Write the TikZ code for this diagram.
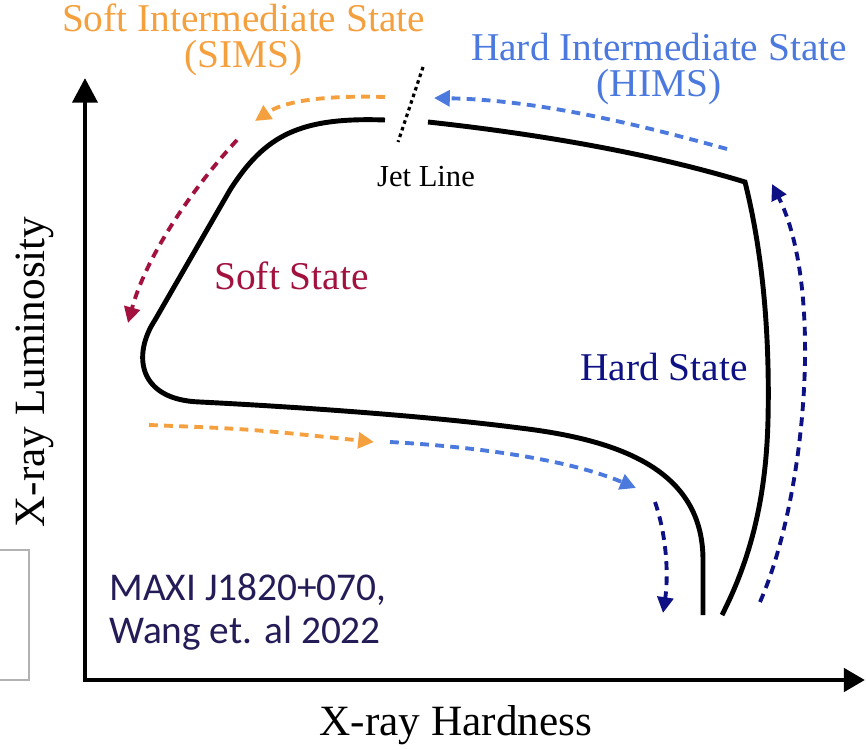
\documentclass[tikz,border=0pt]{standalone}
\usepackage{fontspec}
\setmainfont{Liberation Serif}
\newfontfamily\timesfont{Liberation Serif}
\newfontfamily\maxifont{Carlito}
\usepackage{tikz}
\usetikzlibrary{positioning}
\usetikzlibrary{calc,arrows.meta}
\definecolor{simsorange}{HTML}{F5A03E}
\definecolor{himsblue}{HTML}{4C79DD}
\definecolor{softred}{HTML}{A3123F}
\definecolor{hardnavy}{HTML}{0E1183}
\definecolor{maxiink}{HTML}{231C57}
\tikzset{
	semithick,
	lab/.style = {inner sep=0pt, anchor=base, align=center,
		font=\timesfont\fontsize{22.4}{20.7}\selectfont},
	axislab/.style = {inner sep=0pt, anchor=base, font=\timesfont\fontsize{24.6}{28}\selectfont},
	maxilab/.style = {inner sep=0pt, anchor=base west, align=left, text=maxiink,
		font=\maxifont\fontsize{22.4}{24.4}\selectfont},
	axis/.style = {line width=2.8pt, {Triangle[length=14pt,width=14pt]}-{Triangle[length=12pt,width=13pt]}},
	track/.style = {line width=2.8pt, line cap=butt, line join=miter},
	flow/.style = {line width=2.2pt, dash pattern=on 5pt off 3.6pt,
		-{Triangle[length=9pt,width=9pt]}},
	jetdots/.style = {line width=1.8pt, dash pattern=on 2pt off 2pt},
}
\begin{document}
\begin{tikzpicture}[x=0.02cm, y=-0.02cm]
	\useasboundingbox (0,0) rectangle (866,750);
	\coordinate (o) at (85,680);
	\coordinate (ytip) at (85,78);
	\coordinate (xtip) at (865,680);
	\draw[axis] (ytip) -- (o) -- (xtip);
	\draw[gray!60, line width=0.6pt] (0,550) -| (29,680) -- (0,680);
	\node (xh) [axislab] at (456,735) {X-ray Hardness};
	\node (xl) [axislab, rotate=90] at (44,372) {X-ray Luminosity};

	\coordinate (jl) at (385,120);
	\coordinate (jr) at (428,122);
	\coordinate (corner) at (745,182);
	\draw[track] (jl) .. controls (300,117) and (265,135) .. (230,190)
		-- (155,320) .. controls (132,355) and (138,400) .. (200,402)
		.. controls (280,406) and (420,415) .. (520,428)
		.. controls (620,440) and (703,470) .. (703,560) -- (703,615);
	\draw[track] (jr) .. controls (520,132) and (640,150) .. (corner)
		.. controls (762,250) and (770,330) .. (768,420)
		.. controls (766,500) and (750,560) .. (722,615);
	\coordinate (jt) at (423,67);
	\coordinate (jb) at (398,142);
	\draw[jetdots] (jt) -- (jb);
	\node (jet) [lab, font=\timesfont\fontsize{17.4}{20}\selectfont] at (426,187) {Jet Line};

	\node (sims) [lab, text=simsorange] at (243.5,68) {Soft Intermediate State\\(SIMS)};
	\node (hims) [lab, text=himsblue] at (659,97) {Hard Intermediate State\\(HIMS)};
	\node (soft) [lab, text=softred] at (291.5,289) {Soft State};
	\node (hard) [lab, text=hardnavy] at (664,380) {Hard State};
	\node (maxi) [maxilab] at (109,643) {MAXI J1820+070,\\Wang et. al 2022};

	\coordinate (a1) at (385,97);
	\coordinate (a2) at (255,121);
	\draw[flow, simsorange] (a1) .. controls (320,95) and (283,102) .. (a2);
	\coordinate (b1) at (727,149);
	\coordinate (b2) at (434,98);
	\draw[flow, himsblue] (b1) .. controls (640,125) and (540,100) .. (b2);
	\coordinate (c1) at (237,140);
	\coordinate (c2) at (128,323);
	\draw[flow, softred] (c1) .. controls (200,180) and (148,250) .. (c2);
	\coordinate (d1) at (149,425);
	\coordinate (d2) at (374,442);
	\draw[flow, simsorange] (d1) .. controls (250,429) .. (d2);
	\coordinate (e1) at (390,442);
	\coordinate (e2) at (636,488);
	\draw[flow, himsblue] (e1) .. controls (480,447) and (570,460) .. (e2);
	\coordinate (f1) at (655,502);
	\coordinate (f2) at (663,613);
	\draw[flow, hardnavy] (f1) .. controls (668,540) and (668,580) .. (f2);
	\coordinate (g1) at (760,602);
	\coordinate (g2) at (772,184);
	\draw[flow, hardnavy] (g1) .. controls (805,500) and (825,290) .. (g2);
\end{tikzpicture}
\end{document}
